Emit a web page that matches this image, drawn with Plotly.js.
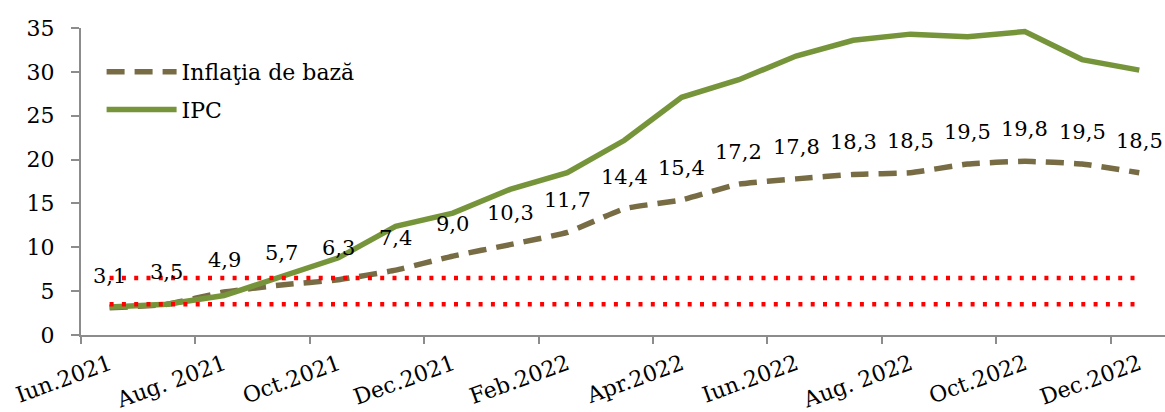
<!DOCTYPE html>
<html>
<head>
<meta charset="utf-8">
<script src="https://cdn.plot.ly/plotly-3.0.1.min.js"></script>
<style>html,body{margin:0;padding:0;background:#fff;}#chart{width:1165px;height:412px;}</style>
</head>
<body>
<div id="chart"></div>
<script>
const months = ["Iun.2021","Iul.2021","Aug. 2021","Sep.2021","Oct.2021","Nov.2021","Dec.2021",
  "Ian.2022","Feb.2022","Mar.2022","Apr.2022","Mai.2022","Iun.2022","Iul.2022","Aug. 2022",
  "Sep.2022","Oct.2022","Nov.2022","Dec.2022"];
const inflatiaDeBaza = [3.1,3.5,4.9,5.7,6.3,7.4,9.0,10.3,11.7,14.4,15.4,17.2,17.8,18.3,18.5,19.5,19.8,19.5,18.5];
const ipc = [3.2,3.5,4.5,6.6,8.8,12.4,13.9,16.6,18.5,22.2,27.1,29.1,31.8,33.6,34.3,34.0,34.6,31.4,30.2];
const upperBound = 6.5;
const lowerBound = 3.5;
const yTicks = [0,5,10,15,20,25,30,35];

const idx = months.map((m,i)=>i);
const labelIdx = idx.filter(i=>i%2===0);
const boundaryTicks = labelIdx.map(i=>i-0.5);

const FONT = "DejaVu Serif, Liberation Serif, serif";
const FS = 22;

const traces = [
  {x: idx, y: inflatiaDeBaza, name: "Inflaţia de bază", legendgroup: "a", mode: "lines", type: "scatter",
   line: {color: "#786c45", width: 5.5, dash: "18px,10px", shape: "spline", smoothing: 0.4}},
  {x: idx, y: ipc, name: "IPC", legendgroup: "b", mode: "lines", type: "scatter",
   line: {color: "#76953a", width: 5.5}},
  {x: idx, y: idx.map(()=>upperBound), mode: "lines", type: "scatter", showlegend: false,
   line: {color: "#ff0000", width: 4.5, dash: "4px,8.3px"}, hoverinfo: "skip"},
  {x: idx, y: idx.map(()=>lowerBound), mode: "lines", type: "scatter", showlegend: false,
   line: {color: "#ff0000", width: 4.5, dash: "4px,8.3px"}, hoverinfo: "skip"},
  {x: boundaryTicks, y: boundaryTicks.map(()=>0), xaxis: "x2", mode: "none", type: "scatter",
   showlegend: false, hoverinfo: "skip"}
];

const annotations = idx.map(i => ({
  x: i, y: inflatiaDeBaza[i], xref: "x", yref: "y",
  text: inflatiaDeBaza[i].toFixed(1).replace(".", ","),
  showarrow: false, yshift: 32,
  font: {family: FONT, size: 21, color: "#000"}
}));

const xr = [-0.5, 18.45];
const layout = {
  width: 1165, height: 412,
  margin: {l: 81, r: 0, t: 28, b: 77},
  paper_bgcolor: "#fff", plot_bgcolor: "#fff",
  font: {family: FONT, size: FS, color: "#000"},
  showlegend: true,
  legend: {x: 0.019, y: 0.925, xanchor: "left", yanchor: "top", bgcolor: "rgba(0,0,0,0)",
           font: {family: FONT, size: FS, color: "#000"}, itemwidth: 70, tracegroupgap: 6},
  xaxis: {range: xr, tickmode: "array", tickvals: labelIdx, ticktext: labelIdx.map(i=>months[i]),
          tickangle: -20, ticks: "", showgrid: false, zeroline: false,
          showline: true, linecolor: "#8c8c8c", linewidth: 2,
          tickfont: {family: FONT, size: FS, color: "#000"}, ticklabelstandoff: 6},
  xaxis2: {range: xr, overlaying: "x", anchor: "y", tickmode: "array", tickvals: boundaryTicks,
           ticks: "outside", ticklen: 8, tickwidth: 2, tickcolor: "#8c8c8c", showticklabels: false,
           showgrid: false, zeroline: false, showline: false},
  yaxis: {range: [0, 35], tickmode: "array", tickvals: yTicks, ticks: "outside", ticklen: 8,
          tickwidth: 2, tickcolor: "#8c8c8c", showgrid: false, zeroline: false,
          showline: true, linecolor: "#8c8c8c", linewidth: 2,
          tickfont: {family: FONT, size: FS, color: "#000"}, ticklabelstandoff: 12},
  annotations: annotations
};

Plotly.newPlot("chart", traces, layout, {displayModeBar: false, staticPlot: true});
</script>
</body>
</html>
